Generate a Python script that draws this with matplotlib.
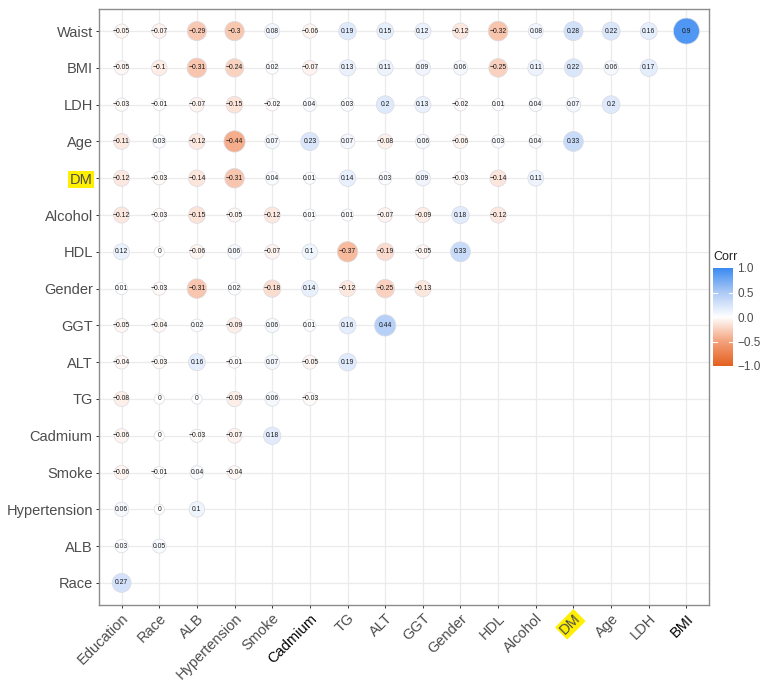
import numpy as np
import matplotlib
matplotlib.use("Agg")
import matplotlib.pyplot as plt
from matplotlib.colors import LinearSegmentedColormap, Normalize

plt.rcParams['font.family'] = ['Liberation Sans', 'DejaVu Sans']

# ---------------------------------------------------------------
# dados (triângulo inferior, linhas de cima para baixo)
# ---------------------------------------------------------------
colunas = ["Education", "Race", "ALB", "Hypertension", "Smoke", "Cadmium",
           "TG", "ALT", "GGT", "Gender", "HDL", "Alcohol", "DM", "Age",
           "LDH", "BMI"]

linhas = ["Waist", "BMI", "LDH", "Age", "DM", "Alcohol", "HDL", "Gender",
          "GGT", "ALT", "TG", "Cadmium", "Smoke", "Hypertension", "ALB",
          "Race"]

waist = [-0.05, -0.07, -0.29, -0.3, 0.08, -0.06, 0.19, 0.15, 0.12, -0.12,
         -0.32, 0.08, 0.28, 0.22, 0.16, 0.9]
bmi = [-0.05, -0.1, -0.31, -0.24, 0.02, -0.07, 0.13, 0.11, 0.09, 0.06,
       -0.25, 0.11, 0.22, 0.06, 0.17]
ldh = [-0.03, -0.01, -0.07, -0.15, -0.02, 0.04, 0.03, 0.2, 0.13, -0.02,
       0.01, 0.04, 0.07, 0.2]
age = [-0.11, 0.03, -0.12, -0.44, 0.07, 0.23, 0.07, -0.08, 0.06, -0.06,
       0.03, 0.04, 0.33]
dm = [-0.12, -0.03, -0.14, -0.31, 0.04, 0.01, 0.14, 0.03, 0.09, -0.03,
      -0.14, 0.11]
alcohol = [-0.12, -0.03, -0.15, -0.05, -0.12, 0.01, 0.01, -0.07, -0.09,
           0.18, -0.12]
hdl = [0.12, 0, -0.06, 0.06, -0.07, 0.1, -0.37, -0.19, -0.05, 0.33]
gender = [0.01, -0.03, -0.31, 0.02, -0.18, 0.14, -0.12, -0.25, -0.13]
ggt = [-0.05, -0.04, 0.02, -0.09, 0.06, 0.01, 0.16, 0.44]
alt = [-0.04, -0.03, 0.16, -0.01, 0.07, -0.05, 0.19]
tg = [-0.08, 0, 0, -0.09, 0.06, -0.03]
cadmium = [-0.06, 0, -0.03, -0.07, 0.18]
smoke = [-0.06, -0.01, 0.04, -0.04]
hypertension = [0.06, 0, 0.1]
alb = [0.03, 0.05]
race = [0.27]

valores = [waist, bmi, ldh, age, dm, alcohol, hdl, gender, ggt, alt, tg,
           cadmium, smoke, hypertension, alb, race]

# ---------------------------------------------------------------
# montagem dos pontos
# ---------------------------------------------------------------
n = len(colunas)
xs, ys, rs = [], [], []
for i, linha in enumerate(valores):
    for j, r in enumerate(linha):
        xs.append(j + 1)
        ys.append(n - i)  # Waist em cima
        rs.append(r)
xs = np.array(xs)
ys = np.array(ys)
rs = np.array(rs)

# tamanho no estilo ggplot: area_pal(c(4, 10)) sobre |r|
amax = np.abs(rs).max()
tam_gg = 4 + 6 * np.sqrt(np.abs(rs) / amax)
diam_pt = 2.6 * tam_gg * 72 / 100
tamanhos = diam_pt ** 2

cmap = LinearSegmentedColormap.from_list(
    "corr", [(0.0, "#E4601F"), (0.25, "#F4A27C"), (0.5, "#FFFFFF"),
             (0.75, "#ADCAF6"), (1.0, "#3B8BF2")])
norm = Normalize(-1, 1)

fig = plt.figure(figsize=(7.67, 6.82), dpi=100)
ax = fig.add_axes([99 / 767, 1 - 605 / 682, 610 / 767, 596 / 682])

ax.scatter(xs, ys, s=tamanhos, c=rs, cmap=cmap, norm=norm,
           edgecolors="#DADAE2", linewidths=0.5, zorder=3)

for x, y, r in zip(xs, ys, rs):
    txt = f"{round(r, 2):g}".replace("-", "\u2212")
    ax.text(x, y, txt, ha="center", va="center", fontsize=4.9,
            color="#1A1A1A", zorder=4)

ax.set_xlim(0.4, n + 0.6)
ax.set_ylim(0.4, n + 0.6)
ax.set_xticks(range(1, n + 1))
ax.set_yticks(range(1, n + 1))
ax.set_xticklabels(colunas)
ax.set_yticklabels(linhas[::-1])
ax.grid(True, color="#EBEBEB", lw=0.9)
ax.set_axisbelow(True)
for sp in ax.spines.values():
    sp.set_color("#8C8C8C")
    sp.set_linewidth(1.0)

ax.tick_params(axis="both", length=2.5, width=0.7, color="#333333",
               labelsize=10.5, labelcolor="#4D4D4D", pad=2)
plt.setp(ax.get_xticklabels(), rotation=45, ha="right", va="top",
         rotation_mode="anchor")

for lab in ax.get_xticklabels():
    if lab.get_text() in ("Cadmium", "BMI"):
        lab.set_color("#000000")
    if lab.get_text() == "DM":
        lab.set_bbox(dict(facecolor="#FFEF00", edgecolor="none", pad=1.2))
for lab in ax.get_yticklabels():
    if lab.get_text() == "DM":
        lab.set_bbox(dict(facecolor="#FFEF00", edgecolor="none", pad=1.2))

# legenda (barra de cores)
cax = fig.add_axes([713 / 767, 1 - 366 / 682, 20 / 767, 98 / 682])
grad = np.linspace(-1, 1, 256).reshape(-1, 1)
cax.imshow(grad, aspect="auto", cmap=cmap, norm=norm, origin="lower",
           extent=[0, 1, -1, 1])
cax.set_xticks([])
cax.yaxis.tick_right()
cax.set_yticks([-1, -0.5, 0, 0.5, 1])
cax.set_yticklabels(["\u22121.0", "\u22120.5", "0.0", "0.5", "1.0"])
cax.tick_params(axis="y", length=0, labelsize=8.5, labelcolor="#4D4D4D",
                pad=3)
for v in [-0.5, 0, 0.5]:
    cax.plot([0, 0.2], [v, v], color="white", lw=0.8)
    cax.plot([0.8, 1], [v, v], color="white", lw=0.8)
for sp in cax.spines.values():
    sp.set_visible(False)
fig.text(713 / 767, 1 - 257 / 682, "Corr", fontsize=9, ha="left",
         va="center", color="#222222")

fig.savefig("out.png", dpi=100)
